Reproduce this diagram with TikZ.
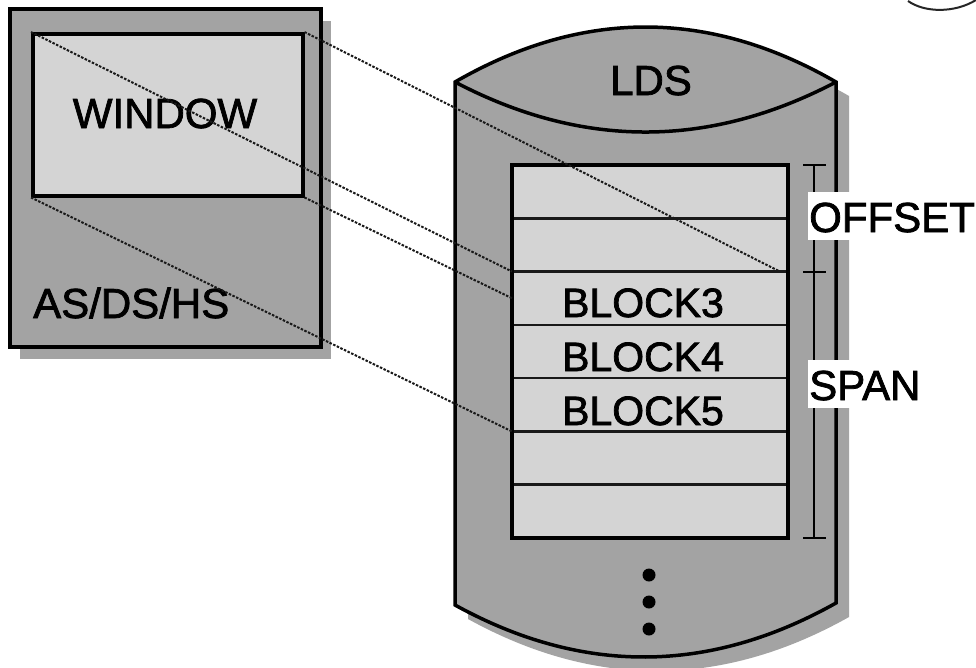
\documentclass[tikz,border=0pt]{standalone}
\usepackage{fontspec}
\setmainfont{Liberation Sans}
\newfontfamily\labelfont[FakeBold=1.8]{Liberation Sans}
\begin{document}
\begin{tikzpicture}[x=1pt,y=-1pt,
  darkfill/.style={fill=black!36},
  lightfill/.style={fill=black!17},
  outline/.style={draw=black,line width=3.5pt,line join=miter},
  rowbox/.style={lightfill,draw=none,minimum width=276pt,minimum height=53.29pt,
    inner sep=0pt,outer sep=0pt,anchor=north west},
  rowrule/.style={draw=black!90,line width=2.5pt},
  bigtext/.style={font=\labelfont\fontsize{42}{48}\selectfont,inner sep=0pt,anchor=base},
  blocktext/.style={font=\labelfont\fontsize{41}{46}\selectfont,inner sep=0pt,anchor=base},
  sidelabel/.style={font=\labelfont\fontsize{42}{48}\selectfont,fill=white,inner xsep=1pt,
    inner ysep=0pt,text height=40pt,text depth=8pt,anchor=base west},
  mapline/.style={draw=black!90,line width=2pt,dash pattern=on 2.5pt off 1.5pt},
  bracket/.style={draw=black,line width=2.2pt}]

% canvas
\path[fill=white] (0,0) rectangle (976,667);
\useasboundingbox (0,0) rectangle (976,667);

% address space box with its shadow
\path[darkfill] (20,21) rectangle (331,359);
\path[darkfill,outline] (10,9) rectangle (321,347);
\node[lightfill,outline,minimum width=270pt,minimum height=162pt,inner sep=0pt,
  anchor=north west] (win) at (31,32) {};
\node[bigtext] (wintext) at (165,128) {WINDOW};
\node[bigtext,anchor=base west] (astext) at (33,318) {AS/DS/HS};

% linear data set cylinder with its shadow
\path[darkfill,shift={(13,14)}] (455,82) -- (455,605)
  .. controls (582,675) and (709,674.3) .. (836,603)
  -- (836,82) .. controls (709,8.7) and (582,8.7) .. (455,82) -- cycle;
\path[darkfill,outline] (455,82) -- (455,605)
  .. controls (582,675) and (709,674.3) .. (836,603)
  -- (836,82) .. controls (709,8.7) and (582,8.7) .. (455,82) -- cycle;
\draw[line width=3.5pt] (455,82) .. controls (582,148.7) and (709,148.7) .. (836,82);
\node[bigtext] (ldstext) at (651,95) {LDS};

% blocks of the data set
\node[rowbox] (r1) at (512,165) {};
\node[rowbox] (r2) at (r1.south west) {};
\node[rowbox] (r3) at (r2.south west) {};
\node[rowbox] (r4) at (r3.south west) {};
\node[rowbox] (r5) at (r4.south west) {};
\node[rowbox] (r6) at (r5.south west) {};
\node[rowbox] (r7) at (r6.south west) {};
\foreach \r in {r1,r2,r3,r4,r5,r6}
  \draw[rowrule] (\r.south west) -- (\r.south east);
\draw[outline] (r1.north west) rectangle (r7.south east);
\node[blocktext] (b3) at (643,317) {BLOCK3};
\node[blocktext] (b4) at (643,371) {BLOCK4};
\node[blocktext] (b5) at (643,425) {BLOCK5};

% offset / span bracket
\coordinate (bt) at (814,165);
\coordinate (bm) at (814,271.6);
\coordinate (bb) at (814,538);
\draw[bracket] (bt) -- (bb);
\foreach \p in {bt,bm,bb}
  \draw[bracket] ([xshift=-11pt]\p) -- ([xshift=12pt]\p);

% more blocks follow
\fill (649,575) circle (6.5);
\fill (649,602) circle (6.5);
\fill (649,629) circle (6.5);

% window mapping onto the data set
\coordinate (offend) at (780,271.6);
\draw[mapline] (win.north west) -- (r3.north west);
\draw[mapline] (win.north east) -- (offend);
\draw[mapline] (win.south east) -- (r3.west);
\draw[mapline] (win.south west) -- (r5.south west);

% labels of the bracket
\node[sidelabel] (offset) at (808,232) {OFFSET};
\node[sidelabel] (span) at (808,400) {SPAN};

% edge of a neighbouring figure
\draw[black!85,line width=2pt] (908,1) .. controls (925,13) and (955,13) .. (976,0);
\end{tikzpicture}
\end{document}
